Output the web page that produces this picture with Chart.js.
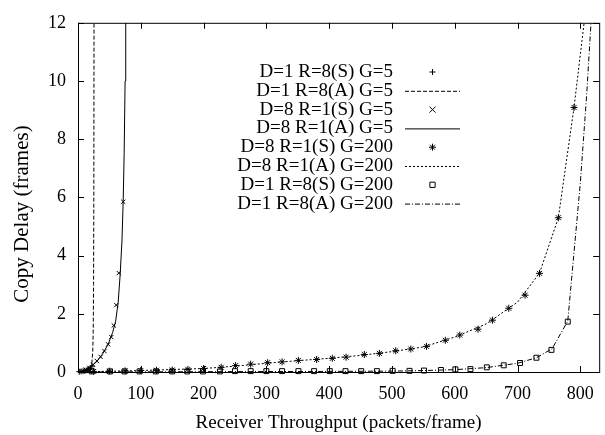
<!DOCTYPE html>
<html>
<head>
<meta charset="utf-8">
<script src="https://cdn.jsdelivr.net/npm/chart.js@4/dist/chart.umd.min.js"></script>
<style>
  html, body { margin: 0; padding: 0; background: #fff; }
  #wrap { width: 605px; height: 435px; position: relative; }
</style>
</head>
<body>
<div id="wrap"><canvas id="chart"></canvas></div>
<script>
// tick labels
const xTicks = [0, 100, 200, 300, 400, 500, 600, 700, 800];
const yTicks = [0, 2, 4, 6, 8, 10, 12];
const xTitle = "Receiver Throughput (packets/frame)";
const yTitle = "Copy Delay (frames)";

// D=1 R=8 G=5
const simD1G5 = [[2, 0.01], [5, 0.02], [8, 0.03], [11, 0.04], [14, 0.06], [17, 0.09], [20, 0.13], [22, 0.2]];
const anaD1G5 = [[0, 0], [10, 0.03], [16, 0.07], [20, 0.14], [22, 0.3], [23.5, 0.7], [24.3, 1.5], [24.8, 3], [25.2, 6], [25.5, 12]];

// D=8 R=1 G=5
const simD8G5 = [[6, 0.03], [12, 0.08], [18, 0.14], [24, 0.25], [30, 0.38], [36, 0.52], [42, 0.72], [48, 0.95], [53, 1.2], [57, 1.6], [61, 2.3], [65, 3.4], [72, 5.85]];
const anaD8G5 = [[0, 0], [10, 0.06], [20, 0.17], [30, 0.36], [40, 0.65], [48, 0.95], [55, 1.35], [60, 1.75], [64, 2.4], [67, 3.3], [70, 4.5], [72, 5.9], [73.5, 7.5], [75, 10], [76, 12]];

// D=8 R=1 G=200
const simD8G200 = [[25, 0.02], [50, 0.03], [75, 0.04], [100, 0.05], [125, 0.06], [150, 0.07], [175, 0.09], [200, 0.12], [228, 0.16], [251, 0.22], [275, 0.27], [302, 0.32], [325, 0.35], [351, 0.4], [380, 0.43], [405, 0.47], [427, 0.51], [456, 0.6], [480, 0.64], [506, 0.73], [530, 0.79], [555, 0.88], [585, 1.09], [608, 1.27], [637, 1.47], [660, 1.78], [686, 2.19], [712, 2.64], [735, 3.39], [765, 5.3], [790, 9.09]];
const anaD8G200 = [[0, 0], [100, 0.05], [200, 0.12], [250, 0.2], [300, 0.3], [350, 0.39], [400, 0.47], [450, 0.57], [500, 0.7], [550, 0.86], [600, 1.2], [650, 1.65], [700, 2.4], [735, 3.4], [765, 5.3], [790, 9.1], [806, 12]];

// D=1 R=8 G=200
const simD1G200 = [[22, 0.02], [51, 0.02], [74, 0.02], [98, 0.02], [124, 0.02], [150, 0.02], [174, 0.02], [199, 0.02], [226, 0.02], [250, 0.03], [275, 0.03], [300, 0.03], [325, 0.03], [351, 0.03], [376, 0.03], [401, 0.03], [426, 0.03], [451, 0.03], [476, 0.03], [501, 0.04], [528, 0.04], [551, 0.05], [578, 0.07], [601, 0.09], [625, 0.1], [651, 0.16], [678, 0.23], [704, 0.31], [730, 0.49], [754, 0.76], [780, 1.73]];
const anaD1G200 = [[0, 0], [400, 0.02], [500, 0.03], [550, 0.05], [600, 0.08], [650, 0.15], [700, 0.3], [730, 0.49], [755, 0.8], [780, 1.75], [792, 4.6], [800, 6.5], [810, 9.5], [817, 12]];

const labels = [
  "D=1 R=8(S) G=5", "D=1 R=8(A) G=5",
  "D=8 R=1(S) G=5", "D=8 R=1(A) G=5",
  "D=8 R=1(S) G=200", "D=8 R=1(A) G=200",
  "D=1 R=8(S) G=200", "D=1 R=8(A) G=200"
];

const FONT = "'Liberation Serif', 'DejaVu Serif', serif";
const toXY = (arr) => arr.map(([x, y]) => ({ x, y }));

const pointSet = (label, data, style, radius) => ({
  label,
  data: toXY(data),
  showLine: false,
  pointStyle: style,
  pointRadius: radius,
  pointHoverRadius: radius,
  pointBorderColor: "#000",
  pointBackgroundColor: style === "rect" ? "rgba(0,0,0,0)" : "#000",
  pointBorderWidth: 1,
  clip: false,
});

const lineSet = (label, data, dash) => ({
  label,
  data: toXY(data),
  showLine: true,
  borderColor: "#000",
  borderWidth: 1,
  borderDash: dash,
  pointRadius: 0,
  tension: 0,
});

const datasets = [
  pointSet(labels[0], simD1G5, "cross", 3),
  lineSet(labels[1], anaD1G5, [4, 2]),
  pointSet(labels[2], simD8G5, "crossRot", 3),
  lineSet(labels[3], anaD8G5, []),
  pointSet(labels[4], simD8G200, "star", 3.5),
  lineSet(labels[5], anaD8G200, [2, 2]),
  pointSet(labels[6], simD1G200, "rect", 3.5),
  lineSet(labels[7], anaD1G200, [5, 2, 1, 2]),
];

function drawMarker(ctx, style, x, y, r) {
  ctx.beginPath();
  if (style === "cross") {
    ctx.moveTo(x - r, y); ctx.lineTo(x + r, y);
    ctx.moveTo(x, y - r); ctx.lineTo(x, y + r);
  } else if (style === "crossRot") {
    ctx.moveTo(x - r, y - r); ctx.lineTo(x + r, y + r);
    ctx.moveTo(x - r, y + r); ctx.lineTo(x + r, y - r);
  } else if (style === "star") {
    ctx.moveTo(x - r, y); ctx.lineTo(x + r, y);
    ctx.moveTo(x, y - r); ctx.lineTo(x, y + r);
    ctx.moveTo(x - r * 0.7, y - r * 0.7); ctx.lineTo(x + r * 0.7, y + r * 0.7);
    ctx.moveTo(x - r * 0.7, y + r * 0.7); ctx.lineTo(x + r * 0.7, y - r * 0.7);
  } else if (style === "rect") {
    ctx.rect(x - r * 0.75, y - r * 0.75, r * 1.5, r * 1.5);
  }
  ctx.stroke();
}

// gnuplot-like frame, inward ticks, titles and key
const framePlugin = {
  id: "frame",
  afterDraw(chart) {
    const { ctx, chartArea: a, scales } = chart;
    ctx.save();
    ctx.strokeStyle = "#000";
    ctx.lineWidth = 1;
    ctx.setLineDash([]);
    ctx.strokeRect(a.left + 0.5, a.top + 0.5, a.right - a.left, a.bottom - a.top);
    const t = 6;
    ctx.beginPath();
    xTicks.forEach((v) => {
      const px = Math.round(scales.x.getPixelForValue(v)) + 0.5;
      ctx.moveTo(px, a.bottom); ctx.lineTo(px, a.bottom - t);
      ctx.moveTo(px, a.top); ctx.lineTo(px, a.top + t);
    });
    yTicks.forEach((v) => {
      const py = Math.round(scales.y.getPixelForValue(v)) + 0.5;
      ctx.moveTo(a.left, py); ctx.lineTo(a.left + t, py);
      ctx.moveTo(a.right, py); ctx.lineTo(a.right - t, py);
    });
    ctx.stroke();

    ctx.fillStyle = "#000";
    ctx.textAlign = "center";
    ctx.textBaseline = "middle";
    ctx.font = "19px " + FONT;
    ctx.fillText(xTitle, (a.left + a.right) / 2, 423);
    ctx.save();
    ctx.translate(22, 214);
    ctx.rotate(-Math.PI / 2);
    ctx.font = "21px " + FONT;
    ctx.fillText(yTitle, 0, 0);
    ctx.restore();

    // key
    const textRight = 393, sampleL = 405, sampleR = 460, top = 72, step = 18.8;
    ctx.font = "19px " + FONT;
    ctx.textAlign = "right";
    chart.data.datasets.forEach((ds, i) => {
      const y = top + i * step;
      ctx.fillText(ds.label, textRight, y);
      if (ds.showLine) {
        ctx.setLineDash(ds.borderDash || []);
        ctx.beginPath();
        ctx.moveTo(sampleL, y + 0.5); ctx.lineTo(sampleR, y + 0.5);
        ctx.stroke();
        ctx.setLineDash([]);
      } else {
        drawMarker(ctx, ds.pointStyle, (sampleL + sampleR) / 2, y, ds.pointRadius);
      }
    });
    ctx.restore();
  },
};

new Chart(document.getElementById("chart"), {
  type: "scatter",
  data: { datasets },
  options: {
    responsive: true,
    maintainAspectRatio: false,
    animation: false,
    events: [],
    layout: { padding: { top: 11, right: 2, left: 0, bottom: 0 } },
    plugins: { legend: { display: false }, tooltip: { enabled: false } },
    scales: {
      x: {
        type: "linear",
        min: 0,
        max: 830,
        afterBuildTicks: (s) => { s.ticks = xTicks.map((v) => ({ value: v })); },
        afterFit: (s) => { s.height = 63; },
        grid: { display: false, drawTicks: false },
        border: { display: false },
        ticks: { color: "#000", padding: 11, font: { family: FONT, size: 18 } },
      },
      y: {
        type: "linear",
        min: 0,
        max: 12,
        afterBuildTicks: (s) => { s.ticks = yTicks.map((v) => ({ value: v })); },
        afterFit: (s) => { s.width = 78; },
        grid: { display: false, drawTicks: false },
        border: { display: false },
        ticks: { color: "#000", padding: 12, font: { family: FONT, size: 18 } },
      },
    },
  },
  plugins: [framePlugin],
});
</script>
</body>
</html>
